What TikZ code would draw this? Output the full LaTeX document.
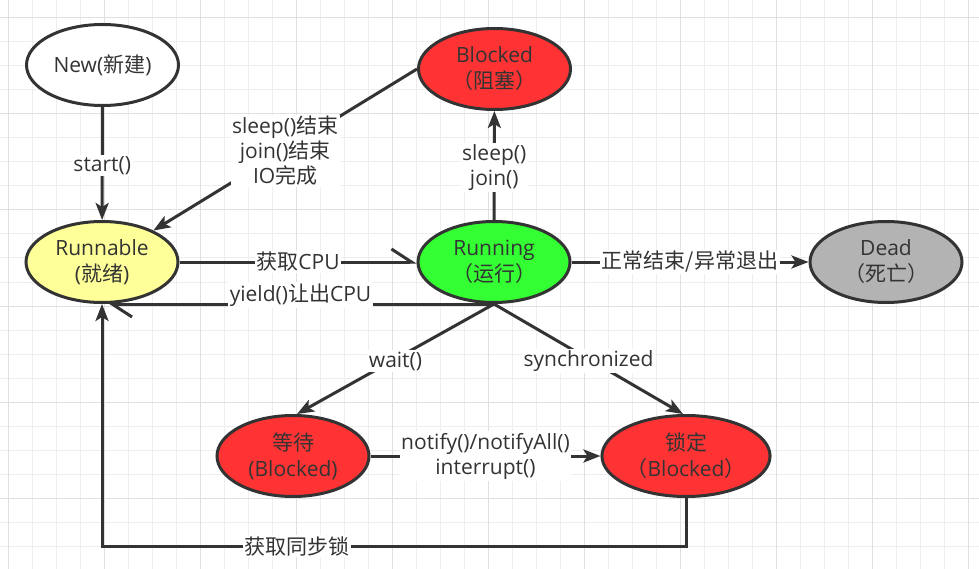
\documentclass[tikz,border=0pt]{standalone}
\usepackage{fontspec}
\setmainfont{Open Sans}
\newfontfamily\cjk{Noto Sans CJK SC}
\usetikzlibrary{shapes.geometric,arrows.meta}
\definecolor{ink}{HTML}{333333}
\definecolor{gmin}{HTML}{EEEEEE}
\definecolor{gmaj}{HTML}{E0E0E0}
\definecolor{redf}{HTML}{FF3333}
\definecolor{yelf}{HTML}{FFFF99}
\definecolor{grnf}{HTML}{33FF33}
\definecolor{gryf}{HTML}{B3B3B3}
\tikzset{
  st/.style={ellipse, draw=ink, line width=3pt, minimum width=152pt, minimum height=81pt,
    inner sep=0pt, align=center, text=ink, font=\fontsize{21}{26}\selectfont},
  conn/.style={draw=ink, line width=3pt},
  tip/.style={-{Stealth[length=17pt,width=13pt,inset=4pt]}},
  barb/.style={-{Straight Barb[left,length=20pt,width=26pt]}},
  lbl/.style={fill=white, text=ink, font=\fontsize{21}{25}\selectfont, align=center, inner sep=1.5pt},
}
\begin{document}
\begin{tikzpicture}[x=1pt,y=-1pt]
\useasboundingbox (0,0) rectangle (979,569);
\fill[white] (0,0) rectangle (979,569);
% grid
\foreach \x in {8,32,...,976} \draw[gmin,line width=1pt] (\x,0) -- (\x,569);
\foreach \y in {18,42,...,566} \draw[gmin,line width=1pt] (0,\y) -- (979,\y);
\foreach \x in {8,104,...,976} \draw[gmaj,line width=1pt] (\x,0) -- (\x,569);
\foreach \y in {18,114,...,566} \draw[gmaj,line width=1pt] (0,\y) -- (979,\y);
% states
\node[st, fill=white] (new) at (102.5,65) {New({\cjk 新建})};
\node[st, fill=redf] (blk) at (494.5,69) {Blocked\\{\cjk （阻塞）}};
\node[st, fill=yelf] (rnb) at (102,262) {Runnable\\({\cjk 就绪})};
\node[st, fill=grnf] (rng) at (494,262) {Running\\{\cjk （运行）}};
\node[st, fill=gryf] (dead) at (886,262) {Dead\\{\cjk （死亡）}};
\node[st, fill=redf] (wait) at (293,456) {{\cjk 等待}\\(Blocked)};
\node[st, fill=redf] (lock) at (686,456) {{\cjk 锁定}\\{\cjk （}Blocked{\cjk ）}};
% transitions
\draw[conn,tip] (new) -- node[lbl, yshift=-2pt]{start()} (rnb);
\draw[conn,tip] (blk.west) -- node[lbl, yshift=-1pt]{sleep(){\cjk 结束}\\join(){\cjk 结束}\\IO{\cjk 完成}} (rnb);
\draw[conn,tip] (rng) -- node[lbl, yshift=-2pt]{sleep()\\join()} (blk);
\draw[conn,barb] (rnb) -- node[lbl]{{\cjk 获取}CPU} (rng);
\draw[conn,barb] (rng.south) -- node[lbl, yshift=9pt]{yield(){\cjk 让出}CPU} ([xshift=5pt]rnb.south);
\draw[conn,tip] (rng) -- node[lbl]{{\cjk 正常结束/异常退出}} (dead);
\draw[conn,tip] (rng.south) -- node[lbl, yshift=-2pt]{wait()} ([xshift=4pt]wait.north);
\draw[conn,tip] (rng.south) -- node[lbl, yshift=-2pt]{synchronized} ([xshift=-3pt]lock.north);
\draw[conn,tip] (wait) -- node[lbl]{notify()/notifyAll()\\interrupt()} (lock);
\draw[conn,tip] (lock.south) -- ++(0,48) -| node[lbl, pos=0.333]{{\cjk 获取同步锁}} (rnb.south);
\end{tikzpicture}
\end{document}
